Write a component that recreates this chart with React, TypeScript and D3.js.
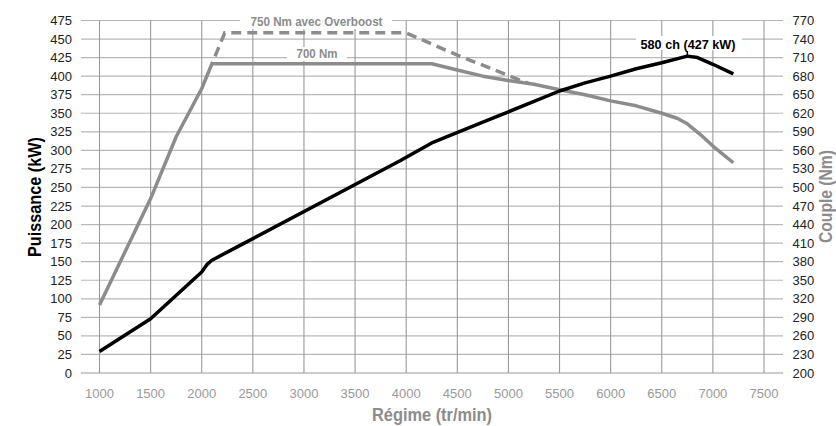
import React from "react";
import * as d3 from "d3";

const rpmTicks = [1000, 1500, 2000, 2500, 3000, 3500, 4000, 4500, 5000, 5500, 6000, 6500, 7000, 7500];
const powerTicks = [0, 25, 50, 75, 100, 125, 150, 175, 200, 225, 250, 275, 300, 325, 350, 375, 400, 425, 450, 475];
const torqueTicks = [200, 230, 260, 290, 320, 350, 380, 410, 440, 470, 500, 530, 560, 590, 620, 650, 680, 710, 740, 770];

const rpmPower = [1000, 1500, 2000, 2050, 2100, 2375, 3940, 4250, 4750, 5000, 5250, 5500, 5750, 6000, 6250, 6500, 6750, 6850, 7000, 7200];
const powerKW = [29, 73, 136, 146, 152, 172, 286, 310, 338, 352, 366, 380, 391, 400, 410, 418, 427, 425, 416, 403];

const rpmTorque = [1000, 1500, 1750, 2000, 2100, 4250, 4500, 4750, 5000, 5250, 5500, 5750, 6000, 6250, 6500, 6650, 6750, 6875, 7000, 7200];
const torqueNm = [310, 482, 582, 660, 700, 700, 690, 680, 673, 667, 658, 650, 640, 632, 620, 612, 603, 586, 567, 540];

const rpmOverboost = [2100, 2225, 4000, 4500, 5200];
const overboostNm = [700, 750, 750, 714, 668];

const peakRpm = 6750;
const peakKW = 427;

const W = 836;
const H = 426;
const boldFont = "'Liberation Sans', Arial, sans-serif";
const regular = "'Liberation Sans', Arial, sans-serif";

export default function App() {
  const x = d3.scaleLinear().domain([1000, 7500]).range([99.5, 764]);
  const yP = d3.scaleLinear().domain([0, 475]).range([373, 20.5]);
  const yT = d3.scaleLinear().domain([200, 770]).range([373, 20.5]);

  const lineP = d3.line<number>().x((_, i) => x(rpmPower[i])).y((d) => yP(d));
  const lineT = d3.line<number>().x((_, i) => x(rpmTorque[i])).y((d) => yT(d));
  const lineO = d3.line<number>().x((_, i) => x(rpmOverboost[i])).y((d) => yT(d));

  const gridL = 81;
  const gridR = 783;
  const top = yP(475);
  const bottom = yP(0);

  return (
    <svg width={W} height={H} style={{ position: "absolute", left: 0, top: 0, background: "#fff" }}>
      {/* horizontal grid */}
      {powerTicks.map((t) => (
        <line key={"h" + t} x1={gridL} x2={gridR} y1={yP(t)} y2={yP(t)} stroke={t === 0 ? "#999" : "#b8b8b8"} strokeWidth={1.2} />
      ))}
      {/* vertical grid */}
      {rpmTicks.map((t) => (
        <line key={"v" + t} x1={x(t)} x2={x(t)} y1={top} y2={bottom} stroke="#9a9a9a" strokeWidth={1.1} />
      ))}
      {/* left ticks */}
      {powerTicks.map((t) => (
        <text key={"pl" + t} x={72} y={yP(t)} dy="0.35em" textAnchor="end" fontFamily={regular} fontSize={13} fill="#222">
          {t}
        </text>
      ))}
      {/* right ticks */}
      {torqueTicks.map((t) => (
        <text key={"tr" + t} x={792.5} y={yT(t)} dy="0.35em" textAnchor="start" fontFamily={regular} fontSize={13} fill="#222">
          {t}
        </text>
      ))}
      {/* bottom ticks */}
      {rpmTicks.map((t) => (
        <text key={"bx" + t} x={x(t)} y={398} textAnchor="middle" fontFamily={regular} fontSize={13} fill="#999">
          {t}
        </text>
      ))}

      {/* annotation knockouts */}
      <rect x={240} y={14} width={152} height={15} fill="#fff" />
      <text x={316.5} y={21.5} dy="0.35em" textAnchor="middle" fontFamily={boldFont} fontWeight="bold" fontSize={13.5} fill="#8c8c8c" textLength={132} lengthAdjust="spacingAndGlyphs">
        750 Nm avec Overboost
      </text>
      <rect x={287} y={47} width={60} height={14} fill="#fff" />
      <text x={317} y={53.5} dy="0.35em" textAnchor="middle" fontFamily={boldFont} fontWeight="bold" fontSize={13.5} fill="#8c8c8c" textLength={41} lengthAdjust="spacingAndGlyphs">
        700 Nm
      </text>

      {/* curves */}
      <path d={lineO(overboostNm) || ""} fill="none" stroke="#8c8c8c" strokeWidth={3.5} strokeDasharray="10,6" strokeDashoffset={-8} />
      <path d={lineT(torqueNm) || ""} fill="none" stroke="#8c8c8c" strokeWidth={3.5} strokeLinejoin="round" />
      <path d={lineP(powerKW) || ""} fill="none" stroke="#000" strokeWidth={3.5} strokeLinejoin="round" />

      {/* peak annotation */}
      <rect x={636} y={36} width={106} height={14} fill="#fff" />
      <text x={688} y={44} dy="0.35em" textAnchor="middle" fontFamily={boldFont} fontWeight="bold" fontSize={13.5} fill="#000" textLength={95} lengthAdjust="spacingAndGlyphs">
        580 ch (427 kW)
      </text>
      <line x1={x(peakRpm)} x2={x(peakRpm)} y1={51} y2={yP(peakKW)} stroke="#000" strokeWidth={1.5} />

      {/* axis titles */}
      <text transform={`translate(34.5,197) rotate(-90)`} dy="0.35em" textAnchor="middle" fontFamily={boldFont} fontWeight="bold" fontSize={18} fill="#000" textLength={120} lengthAdjust="spacingAndGlyphs">
        Puissance (kW)
      </text>
      <text transform={`translate(826,196.5) rotate(-90)`} dy="0.35em" textAnchor="middle" fontFamily={boldFont} fontWeight="bold" fontSize={18} fill="#8c8c8c" textLength={93} lengthAdjust="spacingAndGlyphs">
        Couple (Nm)
      </text>
      <text x={432} y={421} textAnchor="middle" fontFamily={boldFont} fontWeight="bold" fontSize={18} fill="#8c8c8c" textLength={120} lengthAdjust="spacingAndGlyphs">
        Régime (tr/min)
      </text>
    </svg>
  );
}
